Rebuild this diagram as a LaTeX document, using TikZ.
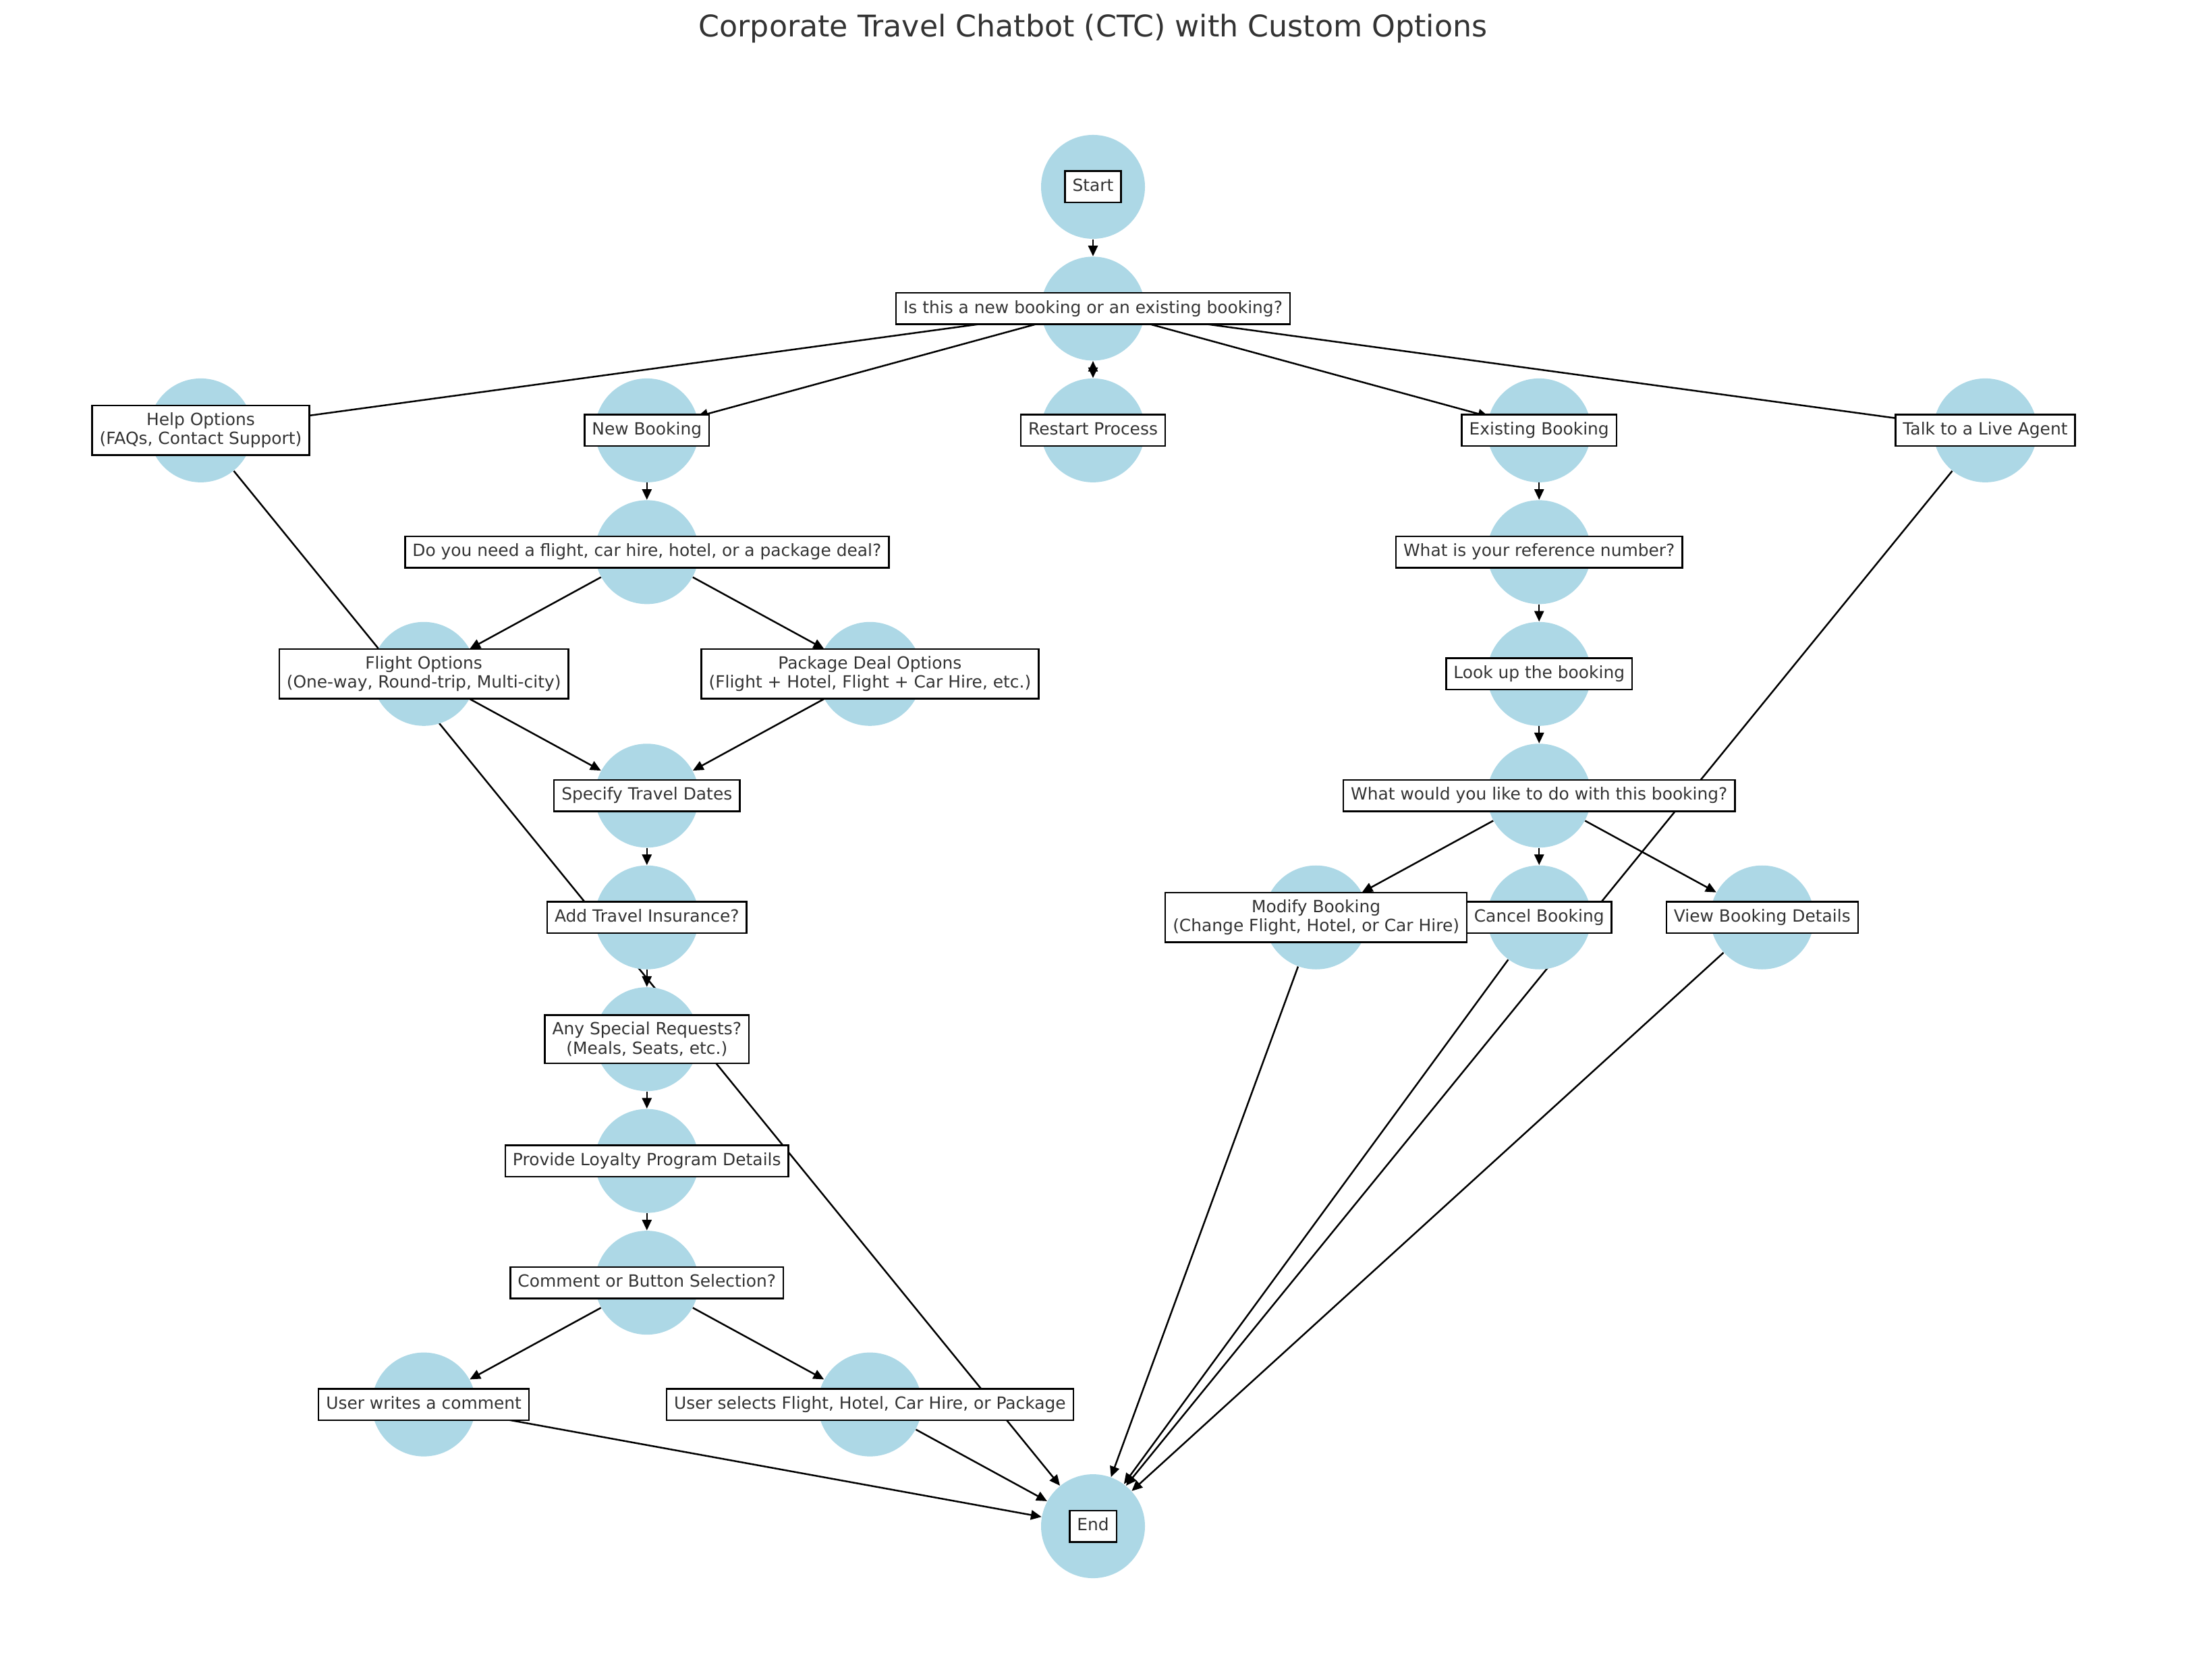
\documentclass[tikz,border=0pt]{standalone}
\usepackage{fontspec}
\setmainfont{DejaVu Sans}
\usepackage{tikz}
\usetikzlibrary{arrows.meta}
\definecolor{stateblue}{HTML}{ADD8E6}
\definecolor{textgray}{HTML}{333333}
\pgfdeclarelayer{background}
\pgfsetlayers{background,main}

\begin{document}
\begin{tikzpicture}[x=4.199cm, y=-2.292cm, >={Triangle[length=2mm, width=1.8mm]},
    state/.style={circle, fill=stateblue, minimum size=19.56mm, inner sep=0pt},
    lbl/.style={draw=black, line width=0.9pt, fill=white, text=textgray,
        font=\fontsize{9}{10.2}\selectfont, inner xsep=4pt, inner ysep=3.8pt,
        text height=7pt, text depth=2.2pt},
    lbltwo/.style={lbl, align=center, text height={}, text depth={}},
    flow/.style={->, line width=0.9pt}]

    %% Background
    \useasboundingbox (-0.9,-1.5346) rectangle (8.9,12.2604);

    % Title
    \node[text=textgray, font=\fontsize{16}{19}\selectfont] (title) at (4,-1.3)
        {Corporate Travel Chatbot (CTC) with Custom Options};

    % States
    \node[state] (start)    at (4,0)  {};
    \node[state] (newold)   at (4,1)  {};
    \node[state] (help)     at (0,2)  {};
    \node[state] (newbk)    at (2,2)  {};
    \node[state] (restart)  at (4,2)  {};
    \node[state] (exist)    at (6,2)  {};
    \node[state] (agent)    at (8,2)  {};
    \node[state] (need)     at (2,3)  {};
    \node[state] (refno)    at (6,3)  {};
    \node[state] (flight)   at (1,4)  {};
    \node[state] (package)  at (3,4)  {};
    \node[state] (lookup)   at (6,4)  {};
    \node[state] (dates)    at (2,5)  {};
    \node[state] (action)   at (6,5)  {};
    \node[state] (insure)   at (2,6)  {};
    \node[state] (modify)   at (5,6)  {};
    \node[state] (cancel)   at (6,6)  {};
    \node[state] (details)  at (7,6)  {};
    \node[state] (requests) at (2,7)  {};
    \node[state] (loyalty)  at (2,8)  {};
    \node[state] (select)   at (2,9)  {};
    \node[state] (comment)  at (1,10) {};
    \node[state] (pick)     at (3,10) {};
    \node[state] (finish)   at (4,11) {};

    % Transitions
    \begin{pgfonlayer}{background}
    \draw[flow] (start) -- (newold);
    \draw[flow] (newold) -- (help);
    \draw[flow] (newold) -- (newbk);
    \draw[<->, line width=0.9pt] (newold) -- (restart);
    \draw[flow] (newold) -- (exist);
    \draw[flow] (newold) -- (agent);
    \draw[flow] (help) -- (finish);
    \draw[flow] (agent) -- (finish);
    % new booking
    \draw[flow] (newbk) -- (need);
    \draw[flow] (need) -- (flight);
    \draw[flow] (need) -- (package);
    \draw[flow] (flight) -- (dates);
    \draw[flow] (package) -- (dates);
    \draw[flow] (dates) -- (insure);
    \draw[flow] (insure) -- (requests);
    \draw[flow] (requests) -- (loyalty);
    \draw[flow] (loyalty) -- (select);
    \draw[flow] (select) -- (comment);
    \draw[flow] (select) -- (pick);
    \draw[flow] (comment) -- (finish);
    \draw[flow] (pick) -- (finish);
    % existing booking
    \draw[flow] (exist) -- (refno);
    \draw[flow] (refno) -- (lookup);
    \draw[flow] (lookup) -- (action);
    \draw[flow] (action) -- (modify);
    \draw[flow] (action) -- (cancel);
    \draw[flow] (action) -- (details);
    \draw[flow] (modify) -- (finish);
    \draw[flow] (cancel) -- (finish);
    \draw[flow] (details) -- (finish);
    \end{pgfonlayer}

    % Labels
    \node[lbl] (start-l)    at (start)    {Start};
    \node[lbl] (newold-l)   at (newold)   {Is this a new booking or an existing booking?};
    \node[lbltwo] (help-l)  at (help)     {Help Options\\(FAQs, Contact Support)};
    \node[lbl] (newbk-l)    at (newbk)    {New Booking};
    \node[lbl] (restart-l)  at (restart)  {Restart Process};
    \node[lbl] (exist-l)    at (exist)    {Existing Booking};
    \node[lbl] (agent-l)    at (agent)    {Talk to a Live Agent};
    \node[lbl] (need-l)     at (need)     {Do you need a flight, car hire, hotel, or a package deal?};
    \node[lbl] (refno-l)    at (refno)    {What is your reference number?};
    \node[lbltwo] (flight-l)  at (flight)  {Flight Options\\(One-way, Round-trip, Multi-city)};
    \node[lbltwo] (package-l) at (package) {Package Deal Options\\(Flight + Hotel, Flight + Car Hire, etc.)};
    \node[lbl] (lookup-l)   at (lookup)   {Look up the booking};
    \node[lbl] (dates-l)    at (dates)    {Specify Travel Dates};
    \node[lbl] (action-l)   at (action)   {What would you like to do with this booking?};
    \node[lbl] (insure-l)   at (insure)   {Add Travel Insurance?};
    \node[lbltwo] (modify-l)  at (modify)  {Modify Booking\\(Change Flight, Hotel, or Car Hire)};
    \node[lbl] (cancel-l)   at (cancel)   {Cancel Booking};
    \node[lbl] (details-l)  at (details)  {View Booking Details};
    \node[lbltwo] (requests-l) at (requests) {Any Special Requests?\\(Meals, Seats, etc.)};
    \node[lbl] (loyalty-l)  at (loyalty)  {Provide Loyalty Program Details};
    \node[lbl] (select-l)   at (select)   {Comment or Button Selection?};
    \node[lbl] (comment-l)  at (comment)  {User writes a comment};
    \node[lbl] (pick-l)     at (pick)     {User selects Flight, Hotel, Car Hire, or Package};
    \node[lbl] (finish-l)   at (finish)   {End};

\end{tikzpicture}
\end{document}
